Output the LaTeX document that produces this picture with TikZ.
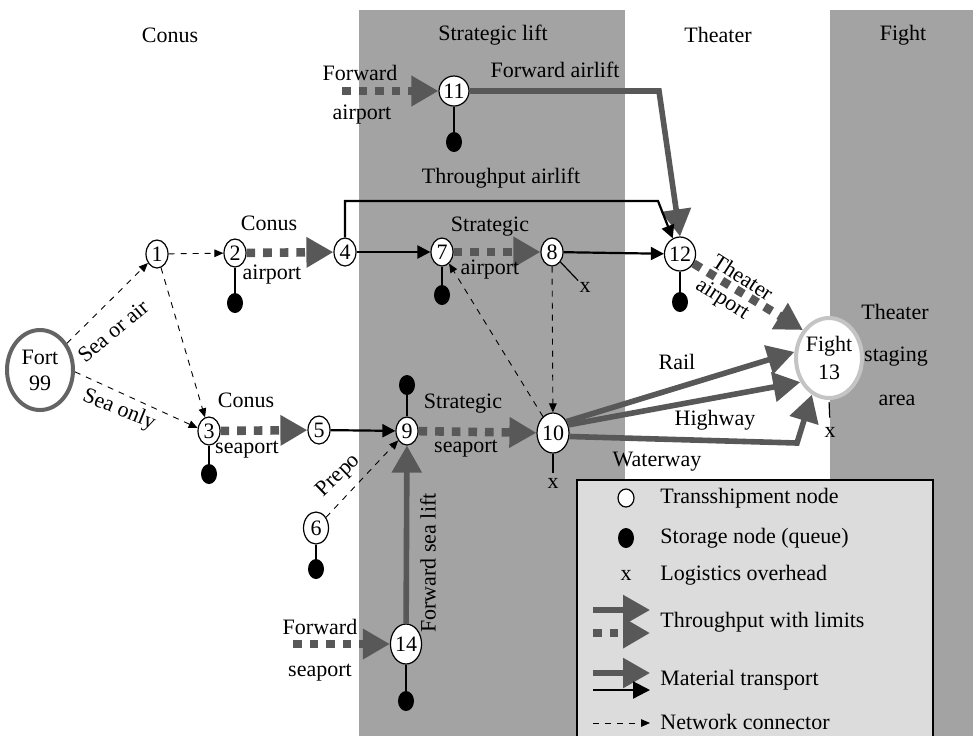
\documentclass[tikz,border=0pt]{standalone}
\usepackage{fontspec}
\setmainfont{Liberation Serif}
\usetikzlibrary{arrows.meta,positioning,shapes.geometric}

\definecolor{bandgray}{RGB}{163,163,163}
\definecolor{flowgray}{RGB}{88,88,88}
\definecolor{boxgray}{RGB}{220,220,220}
\definecolor{fortgray}{RGB}{100,100,100}
\definecolor{ringgray}{RGB}{196,196,196}

\tikzset{
  trans/.style={ellipse, draw, fill=white, line width=0.6pt, inner sep=0pt,
    minimum width=11pt, minimum height=14pt},
  store/.style={ellipse, fill=black, inner sep=0pt, minimum width=8pt, minimum height=10pt},
  overhead/.style={inner sep=0.5pt},
  stem/.style={line width=0.6pt},
  netlink/.style={dashed, line width=0.45pt, -{Triangle[length=4.5pt,width=3.8pt]}},
  transport/.style={line width=1.1pt, -{Triangle[length=6.5pt,width=6.5pt]}},
  bulk/.style={draw=flowgray, line width=2.8pt, -{Triangle[length=13.5pt,width=14.5pt]}},
  limited/.style={bulk, line width=4.3pt, dash pattern=on 4.3pt off 4pt},
  lbl/.style={inner sep=0pt},
}

\begin{document}
\begin{tikzpicture}[x=0.5pt, y=-0.5pt, font=\fontsize{11}{13}\selectfont]
  \useasboundingbox (0,0) rectangle (973,735);
  \clip (0,0) rectangle (973,735);
  % stage bands
  \fill[bandgray] (359,10) rectangle (625,760);
  \fill[bandgray] (830,10) rectangle (990,760);
  \node (hconus) at (170,35) {Conus};
  \node (hstrat) at (493,35) {Strategic lift};
  \node (htheater) at (718,35) {Theater};
  \node (hfight) at (903,35) {Fight};

  % transshipment nodes
  \node (fort) at (40,370) [ellipse, draw=fortgray, fill=white, line width=2pt, inner sep=0pt,
    minimum width=33pt, minimum height=40pt, align=center] {Fort\\99};
  \node (n1) at (157,254) [trans] {1};
  \node (n2) at (235,253) [trans] {2};
  \node (n3) at (209,431) [trans] {3};
  \node (n4) at (345,252) [trans] {4};
  \node (n5) at (319,430) [trans] {5};
  \node (n6) at (316,528) [trans, minimum width=12.5pt, minimum height=16pt] {6};
  \node (n7) at (442,252) [trans] {7};
  \node (n8) at (552,252) [trans] {8};
  \node (n9) at (407,431) [trans] {9};
  \node (n10) at (553,433) [trans, minimum width=16pt, minimum height=20pt] {10};
  \node (n11) at (454,91) [trans, minimum width=13.5pt, minimum height=15pt] {11};
  \node (n12) at (680,254) [trans, minimum width=14pt, minimum height=17pt] {12};
  \node (n13) at (829,358) [ellipse, draw=ringgray, fill=white, line width=2pt, inner sep=0pt,
    minimum width=33pt, minimum height=40pt, align=center] {Fight\\[1pt]13};
  \node (n14) at (406,644) [trans, minimum width=14pt, minimum height=20pt] {14};

  % storage queues
  \node (s2) [store, below=12.5pt of n2] {};
  \node (s3) [store, below=9pt of n3] {};
  \node (s6) [store, below=7pt of n6] {};
  \node (s7) [store, below=9pt of n7] {};
  \node (s9) [store, above=10.5pt of n9] {};
  \node (s11) [store, below=12.5pt of n11] {};
  \node (s12) [store, below=10pt of n12] {};
  \node (s14) [store, below=13pt of n14] {};
  \foreach \n in {2,3,6,7,9,11,12,14}
    \draw[stem] (n\n) -- (s\n);

  % overhead marks
  \node (x8) at (585,287) [overhead] {x};
  \node (x10) [overhead, below=11.5pt of n10] {x};
  \node (x13) at (830,432) [overhead] {x};
  \draw[stem] (n8.-50) -- (x8.north west);
  \draw[stem, shorten >=2pt] (n10.south) -- (x10.north);
  \draw[stem, shorten <=1pt, shorten >=4pt] (n13.south) -- (x13.north);

  % network connectors
  \draw[netlink] (fort) -- (n1);
  \draw[netlink] (fort.-3) -- (n3.165);
  \draw[netlink] (n1) -- (n2);
  \draw[netlink] (n1) -- (n3);
  \draw[netlink] (n8) -- (n10);
  \draw[netlink] (n10) -- (n7);
  \draw[netlink] (n6) -- (n9);
  \node (seaair) at (113,331) [rotate=40] {Sea or air};
  \node (seaonly) at (119,410) [rotate=-22] {Sea only};
  \node (prepo) at (339,476) [rotate=44] {Prepo};

  % throughput with limits
  \coordinate (fwdair) at (342,91);
  \coordinate (fwdsea) at (293,644);
  \draw[limited] (fwdair) -- (n11);
  \draw[limited] (n2) -- (n4);
  \draw[limited] (n3) -- (n5);
  \draw[limited] (n7) -- (n8);
  \draw[limited] (n9) -- (n10);
  \draw[limited] (fwdsea) -- (n14);
  \draw[limited] (n12.-35) -- (n13.133);

  % material transport
  \coordinate (fabend) at (659,91);
  \coordinate (tabend) at (658,201);
  \coordinate (wwbend) at (797,443);
  \draw[bulk] (n11) -- (fabend) -- (n12.north);
  \draw[bulk] (n14) -- (n9);
  \draw[bulk] (n10.40) -- (n13.170);
  \draw[bulk] (n10.28) -- (n13.220);
  \draw[bulk] (n10.-12) -- (wwbend) -- (n13.245);
  \draw[transport] (n4) -- (n7);
  \draw[transport] (n8) -- (n12);
  \draw[transport] (n5) -- (n9);
  \draw[transport] (n4.north) |- (tabend) -- (n12.115);

  % link labels
  \node (lfa1) at (360,73) {Forward};
  \node (lfa2) at (362,115) {airport};
  \node (lfal) at (555,70) {Forward airlift};
  \node (ltal) at (501,178) {Throughput airlift};
  \node (lca1) at (269,223) {Conus};
  \node (lca2) at (272,275) {airport};
  \node (lsa1) at (490,227) {Strategic};
  \node (lsa2) at (490,270) {airport};
  \node (lcs1) at (246,400) {Conus};
  \node (lcs2) at (247,450) {seaport};
  \node (lss1) at (463,404) {Strategic};
  \node (lss2) at (466,449) {seaport};
  \node (lfsl) at (428,563) [rotate=90] {Forward sea lift};
  \node (lfs1) at (320,627) {Forward};
  \node (lfs2) at (320,673) {seaport};
  \node (lta1) at (743,277) [rotate=-33] {Theater};
  \node (lta2) at (722,300) [rotate=-33] {airport};
  \node (lrail) at (677,362) {Rail};
  \node (lhwy) at (715,420) {Highway};
  \node (lww) at (657,462) {Waterway};
  \node (lstg1) at (895,312) {Theater};
  \node (lstg2) at (896,357) {staging};
  \node (lstg3) at (897,400) {area};

  % key
  \draw[fill=boxgray, line width=0.6pt] (577,480) rectangle (933,760);
  \node (ktrans) at (626,498) [trans, minimum width=8pt, minimum height=9pt] {};
  \node (kstore) at (626,538) [store] {};
  \node (kover) at (626,575) [overhead] {x};
  \coordinate (ka1) at (593,610); \coordinate (kb1) at (650,610);
  \coordinate (ka2) at (593,633); \coordinate (kb2) at (650,633);
  \coordinate (ka3) at (593,673); \coordinate (kb3) at (650,673);
  \coordinate (ka4) at (593,690); \coordinate (kb4) at (650,690);
  \coordinate (ka5) at (593,723); \coordinate (kb5) at (650,723);
  \draw[bulk] (ka1) -- (kb1);
  \draw[limited] (ka2) -- (kb2);
  \draw[bulk] (ka3) -- (kb3);
  \draw[transport, -{Triangle[length=8.5pt,width=8.5pt]}] (ka4) -- (kb4);
  \draw[netlink] (ka5) -- (kb5);
  \node (ktxt1) at (660,498) [lbl, anchor=west] {Transshipment node};
  \node (ktxt2) at (660,538) [lbl, anchor=west] {Storage node (queue)};
  \node (ktxt3) at (660,575) [lbl, anchor=west] {Logistics overhead};
  \node (ktxt4) at (660,622) [lbl, anchor=west] {Throughput with limits};
  \node (ktxt5) at (660,680) [lbl, anchor=west] {Material transport};
  \node (ktxt6) at (660,722) [lbl, anchor=west] {Network connector};
\end{tikzpicture}
\end{document}
